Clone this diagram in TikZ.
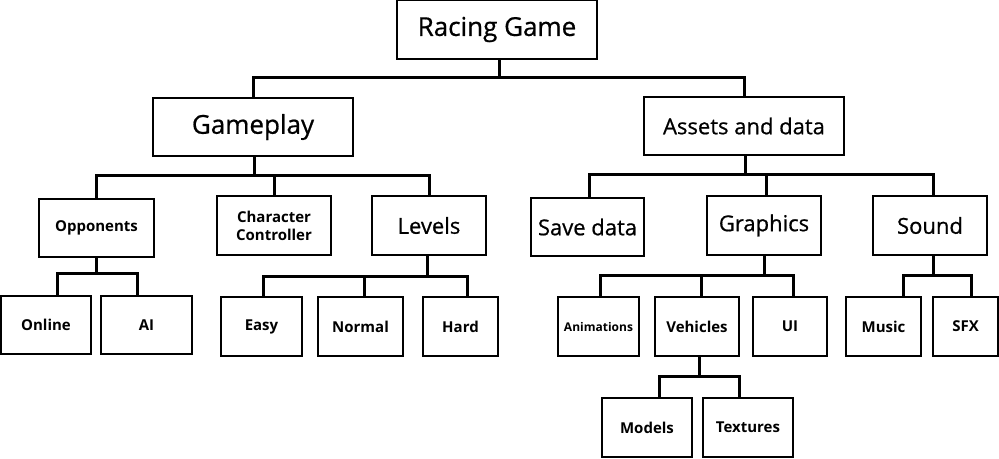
\documentclass[tikz,border=0pt]{standalone}
\usepackage{fontspec}
\setmainfont{Open Sans}
\newfontfamily\medfont[FakeBold=0.7]{Open Sans}
\usepackage{tikz}

\tikzset{
	box/.style={draw, line width=1.2pt, inner sep=0pt, align=center},
	bigtxt/.style={font=\medfont\fontsize{26}{30}\selectfont},
	midtxt/.style={font=\medfont\fontsize{22}{26}\selectfont},
	smalltxt/.style={font=\bfseries\fontsize{15}{18}\selectfont},
	tinytxt/.style={font=\bfseries\fontsize{12}{14}\selectfont},
	link/.style={line width=3pt, line join=miter}
}

\begin{document}
\begin{tikzpicture}[x=1pt,y=-1pt]

	\useasboundingbox (0,0) rectangle (999,458);

	\node[box, bigtxt, minimum width=200, minimum height=59] (root) at (497,29.5) {Racing Game};
	\node[box, bigtxt, minimum width=200, minimum height=58] (gp) at (253,127) {Gameplay};
	\node[box, midtxt, minimum width=200, minimum height=58] (ad) at (744,126) {Assets and data};

	\node[box, smalltxt, minimum width=115, minimum height=58] (opp) at (96.5,228) {Opponents};
	\node[box, smalltxt, minimum width=114, minimum height=59] (cc) at (274,225.5) {Character\\Controller};
	\node[box, midtxt, minimum width=114, minimum height=59] (lev) at (429,225.5) {Levels};
	\node[box, midtxt, minimum width=113, minimum height=58] (sav) at (587.5,227) {Save data};
	\node[box, midtxt, minimum width=114, minimum height=59] (gfx) at (764,225.5) {Graphics};
	\node[box, midtxt, minimum width=114, minimum height=59] (snd) at (930,225.5) {Sound};

	\node[box, smalltxt, minimum width=90, minimum height=58] (onl) at (46,325) {Online};
	\node[box, smalltxt, minimum width=91, minimum height=58] (ai) at (146.5,325) {AI};
	\node[box, smalltxt, minimum width=81, minimum height=59] (easy) at (261.5,326.5) {Easy};
	\node[box, smalltxt, minimum width=85, minimum height=59] (norm) at (360.5,326.5) {Normal};
	\node[box, smalltxt, minimum width=75, minimum height=59] (hard) at (460.5,326.5) {Hard};
	\node[box, tinytxt, minimum width=81, minimum height=59] (anim) at (598.5,326.5) {Animations};
	\node[box, smalltxt, minimum width=84, minimum height=59] (veh) at (697,326.5) {Vehicles};
	\node[box, smalltxt, minimum width=74, minimum height=59] (ui) at (790,326.5) {UI};
	\node[box, smalltxt, minimum width=75, minimum height=59] (mus) at (883.5,326.5) {Music};
	\node[box, smalltxt, minimum width=65, minimum height=59] (sfx) at (965.5,326.5) {SFX};
	\node[box, smalltxt, minimum width=90, minimum height=59] (mod) at (647,427.5) {Models};
	\node[box, smalltxt, minimum width=90, minimum height=59] (tex) at (748,427.5) {Textures};

	\foreach \c in {gp,ad}
		\draw[link] ([xshift=2]root.south) -- ++(0,18) -| (\c.north);
	\foreach \c in {opp,cc,lev}
		\draw[link] ([xshift=1]gp.south) -- ++(0,19) -| (\c.north);
	\foreach \c/\s in {sav/1.5,gfx/2,snd/3}
		\draw[link] ([xshift=1]ad.south) -- ++(0,19) -| ([xshift=\s]\c.north);
	\foreach \c/\s in {onl/11,ai/-9.5}
		\draw[link] (opp.south) -- ++(0,16) -| ([xshift=\s]\c.north);
	\foreach \c/\s in {easy/1.5,norm/3.5,hard/6.5}
		\draw[link] ([xshift=-2]lev.south) -- ++(0,20.5) -| ([xshift=\s]\c.north);
	\foreach \c/\s in {anim/1.5,veh/4,ui/3}
		\draw[link] (gfx.south) -- ++(0,20) -| ([xshift=\s]\c.north);
	\foreach \c/\s in {mus/19.5,sfx/5.5}
		\draw[link] ([xshift=3]snd.south) -- ++(0,20) -| ([xshift=\s]\c.north);
	\foreach \c/\s in {mod/12,tex/-9}
		\draw[link] ([xshift=2]veh.south) -- ++(0,20) -| ([xshift=\s]\c.north);

\end{tikzpicture}
\end{document}
